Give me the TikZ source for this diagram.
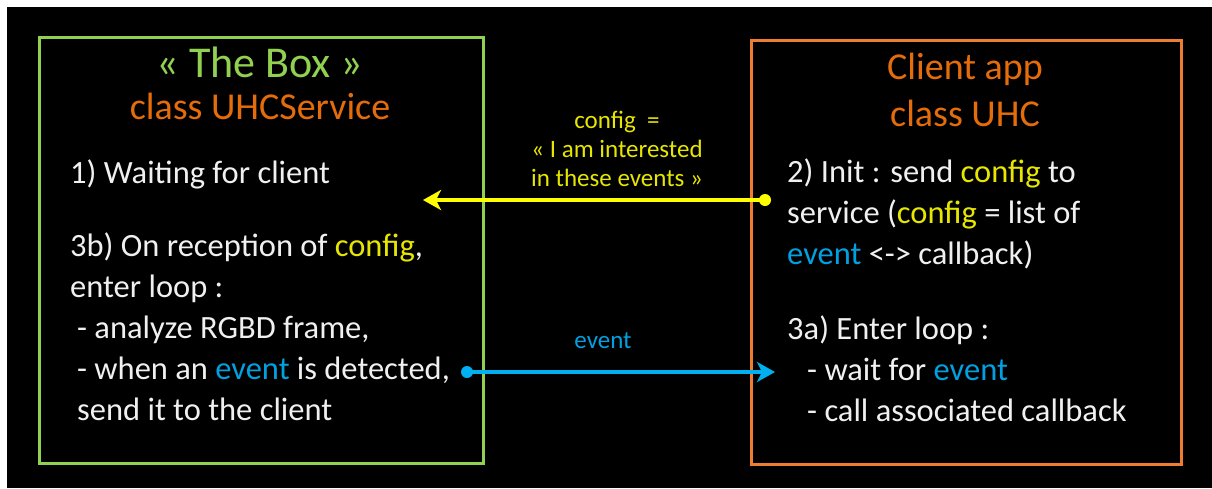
\documentclass[tikz,border=0pt]{standalone}
\usepackage{fontspec}
\setmainfont{Carlito}
\usetikzlibrary{positioning, arrows.meta}
\definecolor{boxgreen}{RGB}{146, 208, 80}
\definecolor{apporange}{RGB}{237, 125, 49}
\definecolor{titleorange}{RGB}{228, 108, 10}
\definecolor{cfgyellow}{RGB}{255, 255, 0}
\definecolor{cfgtext}{RGB}{230, 230, 0}
\definecolor{evtblue}{RGB}{0, 176, 240}
\definecolor{evttext}{RGB}{0, 160, 225}
\definecolor{bodygray}{RGB}{240, 240, 240}

\newcommand{\cfgword}{\textcolor{cfgtext}{config}}
\newcommand{\evtword}{\textcolor{evttext}{event}}

\begin{document}
\begin{tikzpicture}[x=1pt, y=-1pt,
    frame/.style={line width=3pt, anchor=north west, inner sep=0pt},
    title/.style={font=\fontsize{38}{44}\selectfont, anchor=base, inner sep=0pt},
    body/.style={font=\fontsize{32.5}{41}\selectfont, text=bodygray, align=left, anchor=base west, inner sep=0pt},
    msg/.style={font=\fontsize{25}{29}\selectfont, align=center, anchor=base, inner sep=0pt},
    flow/.style={line width=3.5pt, -{Stealth[length=18pt, width=20pt, inset=5pt]}},
    dot/.style={circle, inner sep=0pt, minimum size=12pt}
]

% background
\fill[white] (0,0) rectangle (1212,488);
\fill[black] (7,7) rectangle (1212,488);
\useasboundingbox (0,0) rectangle (1212,488);

% the two boxes
\node[frame, draw=boxgreen, minimum width=444pt, minimum height=426pt] (thebox) at (38,36) {};
\node[frame, draw=apporange, minimum width=430pt, minimum height=424pt] (clientapp) at (750,39) {};

% titles
\node[title, text=boxgreen, font=\fontsize{44}{50}\selectfont] (boxname) at (260,77) {«~The Box~»};
\node[title, text=titleorange] (boxclass) at (260,119) {class UHCService};
\node[title, text=titleorange] (appname) at (965,79) {Client app};
\node[title, text=titleorange] (appclass) at (965,126) {class UHC};

% box text (anchored on the last line)
\node[body] (waiting) at (70,183) {1) Waiting for client};
\node[body] (reception) at (70,420) {3b) On reception of \cfgword,\\enter loop :\\\hspace*{7pt}- analyze RGBD frame,\\\hspace*{7pt}- when an \evtword{} is detected,\\\hspace*{7pt}send it to the client};
\node[body] (init) at (787,264) {2) Init : send \cfgword{} to\\service (\cfgword{} = list of\\\evtword{} <-> callback)};
\node[body] (loop) at (787,421) {3a) Enter loop :\\\hspace*{20pt}- wait for \evtword\\\hspace*{20pt}- call associated callback};

% messages
\node[dot, fill=cfgyellow] (cfgsrc) at (765,200) {};
\coordinate (cfgdst) at (423,200);
\draw[flow, cfgyellow] (cfgsrc.center) -- (cfgdst);
\node[msg, text=cfgtext] (cfglabel) at (617,186) {config~~=\\«~I am interested\\in these events~»};

\node[dot, fill=evtblue] (evtsrc) at (467,372) {};
\coordinate (evtdst) at (775,372);
\draw[flow, evtblue] (evtsrc.center) -- (evtdst);
\node[msg, text=evttext] (evtlabel) at (603,348) {event};

\end{tikzpicture}
\end{document}
